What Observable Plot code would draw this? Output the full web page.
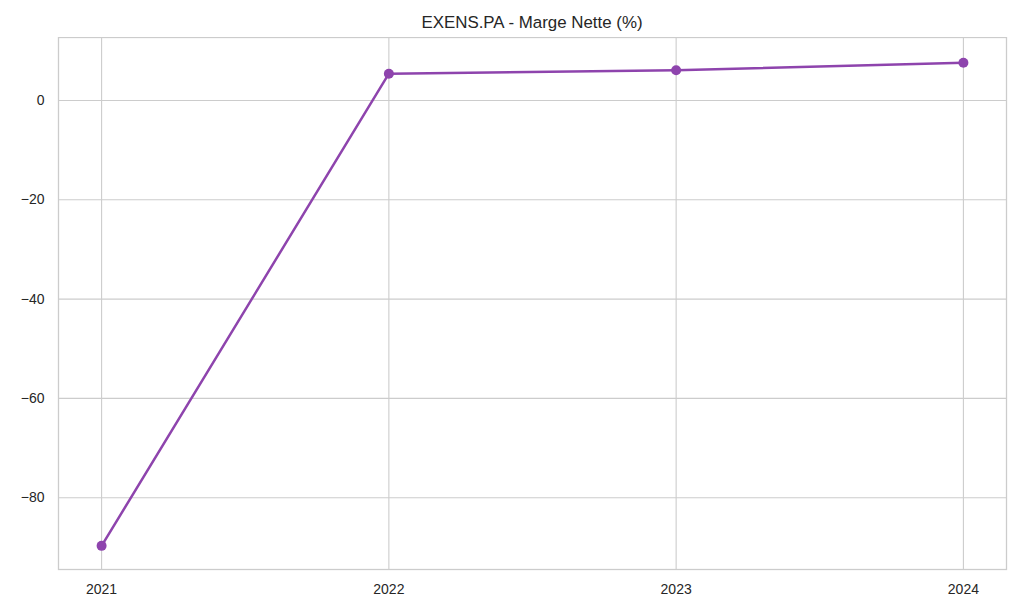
<!DOCTYPE html>
<html>
<head>
<meta charset="utf-8">
<script src="https://cdn.jsdelivr.net/npm/d3@7"></script>
<script src="https://cdn.jsdelivr.net/npm/@observablehq/plot@0.6"></script>
<style>
  html, body { margin: 0; padding: 0; background: #fff; }
  #wrap { width: 1024px; height: 614px; position: relative; font-family: "Liberation Sans", Arial, sans-serif; }
  #title { position: absolute; left: 58px; width: 948px; top: 13px; text-align: center; font-size: 16.9px; color: #262626; line-height: 20px; }
  #chart { position: absolute; left: 0; top: 37px; }
</style>
</head>
<body>
<div id="wrap">
  <div id="title"></div>
  <div id="chart"></div>
</div>
<script>
const years = [2021, 2022, 2023, 2024];
const margins = [-89.7, 5.4, 6.1, 7.6];
const yTicks = [0, -20, -40, -60, -80];
const title = "EXENS.PA - Marge Nette (%)";

document.getElementById("title").textContent = title;
const data = years.map((y, i) => ({year: y, value: margins[i]}));
const color = "#8e44ad";

const plot = Plot.plot({
  width: 1024,
  height: 577,
  marginTop: 0,
  marginLeft: 58,
  marginRight: 18,
  marginBottom: 45,
  style: {fontFamily: "'Liberation Sans', Arial, sans-serif", fontSize: "14px", color: "#262626", background: "transparent"},
  x: {type: "linear", domain: [2021 - 0.15, 2024 + 0.15], label: null},
  y: {domain: [-94.46, 12.69], label: null},
  marks: [
    Plot.gridX(years, {stroke: "#cccccc", strokeOpacity: 1, strokeWidth: 1.1}),
    Plot.gridY(yTicks, {stroke: "#cccccc", strokeOpacity: 1, strokeWidth: 1.1}),
    Plot.frame({stroke: "#cccccc", strokeWidth: 1.3}),
    Plot.axisX(years, {tickSize: 0, tickPadding: 15, tickFormat: d => String(d), fontSize: 14, fill: "#262626", label: null}),
    Plot.axisY(yTicks, {tickSize: 0, tickPadding: 14, fontSize: 14, fill: "#262626", label: null}),
    Plot.line(data, {x: "year", y: "value", stroke: color, strokeWidth: 2.5}),
    Plot.dot(data, {x: "year", y: "value", fill: color, r: 5})
  ]
});
document.getElementById("chart").appendChild(plot);
</script>
</body>
</html>
